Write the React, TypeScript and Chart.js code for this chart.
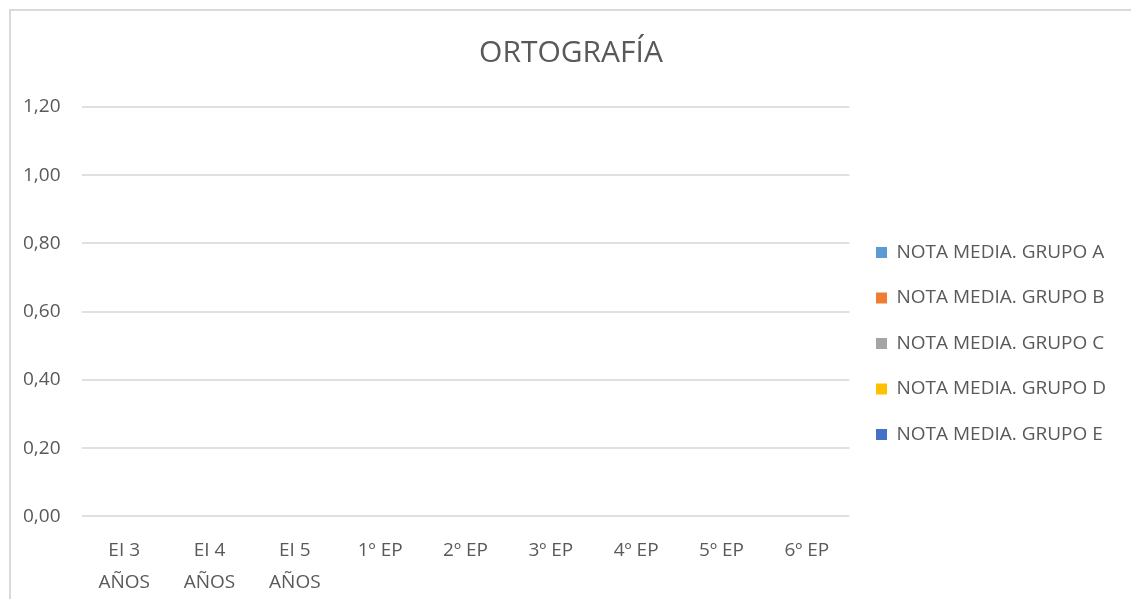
import React, { useEffect, useRef } from "react";
import { Chart, registerables } from "chart.js";

Chart.register(...registerables);

const categories: (string | string[])[] = [
  ["EI 3", "AÑOS"],
  ["EI 4", "AÑOS"],
  ["EI 5", "AÑOS"],
  "1º EP",
  "2º EP",
  "3º EP",
  "4º EP",
  "5º EP",
  "6º EP",
];

const seriesNames = [
  "NOTA MEDIA. GRUPO A",
  "NOTA MEDIA. GRUPO B",
  "NOTA MEDIA. GRUPO C",
  "NOTA MEDIA. GRUPO D",
  "NOTA MEDIA. GRUPO E",
];

const grupoA = [0, 0, 0, 0, 0, 0, 0, 0, 0];
const grupoB = [0, 0, 0, 0, 0, 0, 0, 0, 0];
const grupoC = [0, 0, 0, 0, 0, 0, 0, 0, 0];
const grupoD = [0, 0, 0, 0, 0, 0, 0, 0, 0];
const grupoE = [0, 0, 0, 0, 0, 0, 0, 0, 0];

const seriesColors = ["#5B9BD5", "#ED7D31", "#A5A5A5", "#FFC000", "#4472C4"];

const yMin = 0;
const yMax = 1.2;
const yStep = 0.2;

const TEXT = "#595959";
const GRID = "#d9d9d9";
const GRIDLINE = "#e0e0e0";
const FONT = "'Open Sans', 'Noto Sans', sans-serif";

const centerTitle = {
  id: "centerTitle",
  afterLayout(chart: any) {
    const tb = chart.titleBlock;
    if (tb) {
      tb.left = 0;
      tb.right = chart.width;
      tb.width = chart.width;
    }
  },
};

export default function App() {
  const ref = useRef<HTMLCanvasElement>(null);

  useEffect(() => {
    document.body.style.overflow = "hidden";
    const canvas = ref.current;
    if (!canvas) return;
    const values = [grupoA, grupoB, grupoC, grupoD, grupoE];
    const chart = new Chart(canvas, {
      type: "bar",
      data: {
        labels: categories,
        datasets: values.map((v, i) => ({
          label: seriesNames[i],
          data: v,
          backgroundColor: seriesColors[i],
          borderWidth: 0,
        })),
      },
      plugins: [centerTitle],
      options: {
        animation: false,
        responsive: false,
        maintainAspectRatio: false,
        layout: { padding: { left: -9, right: 15, top: 0, bottom: 0 } },
        plugins: {
          title: {
            display: true,
            text: "ORTOGRAFÍA",
            color: TEXT,
            font: { family: FONT, size: 30, weight: "normal" },
            padding: { top: 24, bottom: 36 },
          },
          legend: {
            display: true,
            position: "right",
            title: { display: true, text: "", font: { size: 10 }, padding: 23.5 },
            labels: {
              boxWidth: 11,
              boxHeight: 11,
              padding: 26.5,
              color: TEXT,
              font: { family: FONT, size: 19 },
            },
          },
          tooltip: { enabled: false },
        },
        scales: {
          x: {
            grid: { display: false, drawTicks: false },
            border: { display: false },
            ticks: {
              color: TEXT,
              padding: 18,
              maxRotation: 0,
              autoSkip: false,
              font: { family: FONT, size: 19, lineHeight: 1.7 },
            },
          },
          y: {
            min: yMin,
            max: yMax,
            grid: { color: GRIDLINE, lineWidth: 2, drawTicks: false },
            border: { display: false },
            ticks: {
              stepSize: yStep,
              color: TEXT,
              padding: 21,
              font: { family: FONT, size: 19 },
              callback: (v: any) => Number(v).toFixed(2).replace(".", ","),
            },
          },
        },
      },
    });
    return () => chart.destroy();
  }, []);

  return (
    <div
      style={{
        position: "absolute",
        left: 9,
        top: 9,
        width: 1122,
        height: 590,
        borderTop: `2px solid ${GRID}`,
        borderLeft: `2px solid ${GRID}`,
        background: "#fff",
        overflow: "hidden",
      }}
    >
      <canvas ref={ref} width={1120} height={606} style={{ display: "block" }} />
    </div>
  );
}
